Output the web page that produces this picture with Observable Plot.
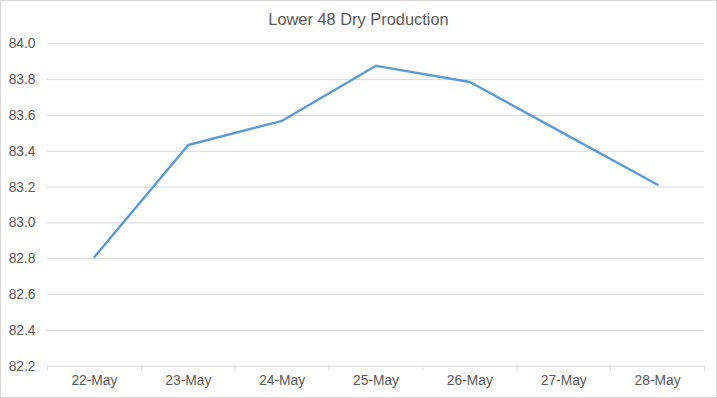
<!DOCTYPE html>
<html>
<head>
<meta charset="utf-8">
<script src="https://cdn.jsdelivr.net/npm/d3@7"></script>
<script src="https://cdn.jsdelivr.net/npm/@observablehq/plot@0.6"></script>
<style>
  html, body { margin: 0; padding: 0; background: #fff; }
  #chart {
    width: 717px; height: 398px; box-sizing: border-box;
    border: 1px solid #d9d9d9; background: #fff;
    font-family: "Liberation Sans", Arial, sans-serif; overflow: hidden;
  }
  #title {
    height: 36px; line-height: 36px; text-align: center;
    font-size: 16.4px; color: #595959;
  }
  svg { display: block; }
</style>
</head>
<body>
<div id="chart"><div id="title">Lower 48 Dry Production</div></div>
<script>
const categories = ["22-May", "23-May", "24-May", "25-May", "26-May", "27-May", "28-May"];
const production = [82.81, 83.435, 83.57, 83.877, 83.787, 83.50, 83.213];
const yTicks = [82.2, 82.4, 82.6, 82.8, 83.0, 83.2, 83.4, 83.6, 83.8, 84.0];

const data = categories.map((c, i) => ({i, label: c, value: production[i]}));
const idx = categories.map((_, i) => i);
const bounds = [...idx.map(i => i - 0.5), categories.length - 0.5];

const chart = Plot.plot({
  width: 715,
  height: 360,
  marginTop: 6.3,
  marginBottom: 31.3,
  marginLeft: 46,
  marginRight: 12,
  style: {fontFamily: '"Liberation Sans", Arial, sans-serif', fontSize: "13.8px", color: "#595959", background: "#fff"},
  x: {type: "linear", domain: [-0.5, categories.length - 0.5]},
  y: {domain: [yTicks[0], yTicks[yTicks.length - 1]]},
  marks: [
    Plot.ruleY(yTicks, {stroke: "#d9d9d9", strokeWidth: 1}),
    Plot.axisY({ticks: yTicks, tickFormat: d => d.toFixed(1), tickSize: 0, tickPadding: 12, label: null, fill: "#595959", fontSize: 13.8}),
    Plot.axisX({ticks: bounds, tickSize: 5, tickFormat: () => "", stroke: "#d9d9d9", label: null}),
    Plot.axisX({ticks: idx, tickSize: 0, tickPadding: 9, tickFormat: i => categories[i], label: null, fill: "#595959", fontSize: 13.8}),
    Plot.lineY(data, {x: "i", y: "value", stroke: "#5b9bd5", strokeWidth: 2.4, strokeLinejoin: "round", strokeLinecap: "round"})
  ]
});
document.getElementById("chart").appendChild(chart);
</script>
</body>
</html>
